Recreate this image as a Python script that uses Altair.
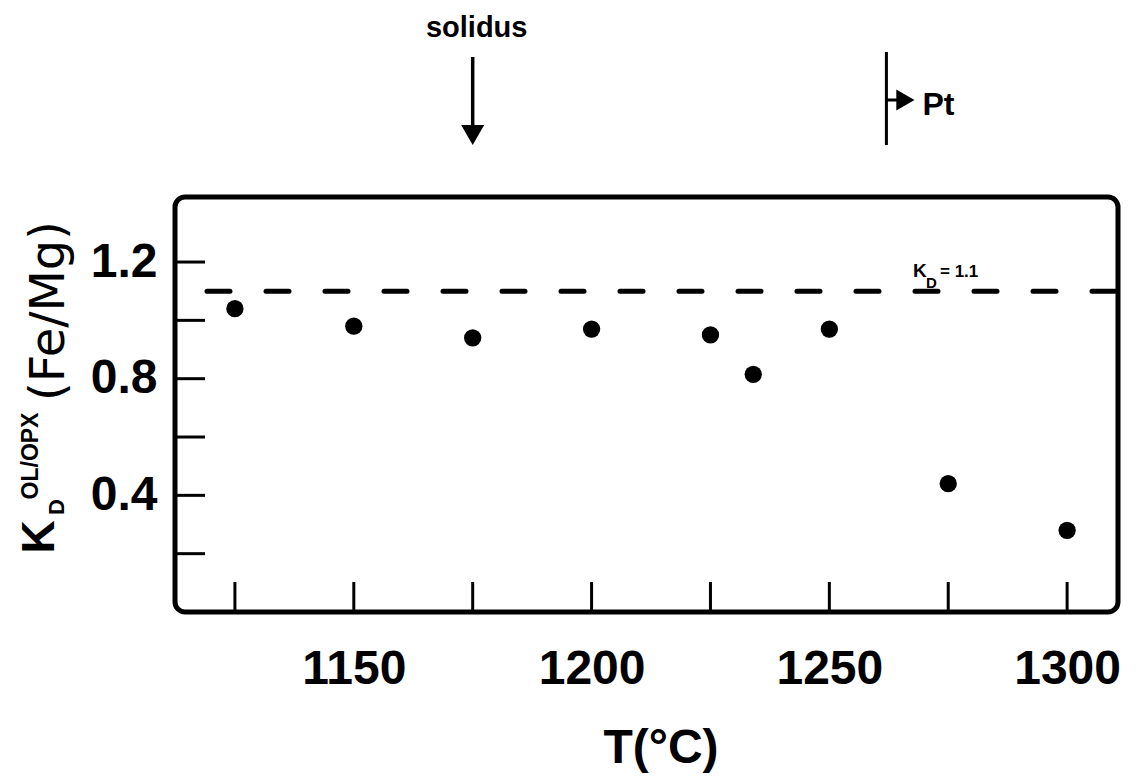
import altair as alt
import pandas as pd

# ---- data ----
temps = [1125, 1150, 1175, 1200, 1225, 1234, 1250, 1275, 1300]
kd = [1.04, 0.98, 0.94, 0.97, 0.95, 0.815, 0.97, 0.44, 0.28]
x_tick_values = [1125, 1150, 1175, 1200, 1225, 1250, 1275, 1300]
x_label_values = [1150, 1200, 1250, 1300]
y_tick_values = [0.2, 0.4, 0.6, 0.8, 1.0, 1.2]
y_label_values = [0.4, 0.8, 1.2]
kd_ref = [1.1]
solidus_T = [1175]
pt_T = [1262]

W, H = 943, 415
FONT = "Liberation Sans"

xs = alt.Scale(domain=[1112.4, 1310.7], nice=False, zero=False)
ys = alt.Scale(domain=[0, 1.423], nice=False, zero=False)

xaxis = alt.Axis(values=x_label_values, format="d", labelFont=FONT, labelFontSize=48,
                 labelFontWeight="bold", labelColor="black", labelPadding=33,
                 ticks=False, domain=False, grid=False, title=None, labelFlush=False)
yaxis = alt.Axis(values=y_label_values, format=".1f", labelFont=FONT, labelFontSize=48,
                 labelFontWeight="bold", labelColor="black", labelPadding=18,
                 ticks=False, domain=False, grid=False, title=None, labelFlush=False)

pts_df = pd.DataFrame({"T": temps, "KD": kd})

points = alt.Chart(pts_df).mark_circle(size=300, color="black", opacity=1).encode(
    x=alt.X("T:Q", scale=xs, axis=xaxis),
    y=alt.Y("KD:Q", scale=ys, axis=yaxis),
)

xticks = alt.Chart(pd.DataFrame({"T": x_tick_values})).mark_rule(
    color="black", strokeWidth=3).encode(
    x=alt.X("T:Q", scale=xs), y=alt.value(H), y2=alt.value(H - 30))

yticks = alt.Chart(pd.DataFrame({"KD": y_tick_values})).mark_rule(
    color="black", strokeWidth=3).encode(
    y=alt.Y("KD:Q", scale=ys), x=alt.value(0), x2=alt.value(30))

ref_df = pd.DataFrame({"KD": kd_ref})
dashed = alt.Chart(ref_df).mark_rule(
    color="black", strokeWidth=5, strokeDash=[23, 36], strokeCap="round").encode(
    y=alt.Y("KD:Q", scale=ys), x=alt.value(32), x2=alt.value(W))

# K_D = 1.1 label
kd_K = alt.Chart(ref_df).mark_text(font=FONT, fontSize=19, fontWeight="bold", align="left",
                                   baseline="alphabetic", color="black").encode(
    x=alt.value(738), y=alt.value(80), text=alt.value("K"))
kd_D = alt.Chart(ref_df).mark_text(font=FONT, fontSize=15, fontWeight="bold", align="left",
                                   baseline="alphabetic", color="black").encode(
    x=alt.value(751), y=alt.value(91), text=alt.value("D"))
kd_eq = alt.Chart(ref_df).mark_text(font=FONT, fontSize=17, fontWeight="bold", align="left",
                                    baseline="alphabetic", color="black").encode(
    x=alt.value(765), y=alt.value(80), text=alt.value("= 1.1"))

# solidus arrow
sol_df = pd.DataFrame({"T": solidus_T})
sol_line = alt.Chart(sol_df).mark_rule(color="black", strokeWidth=3.5).encode(
    x=alt.X("T:Q", scale=xs), y=alt.value(-140), y2=alt.value(-68))
sol_head = alt.Chart(sol_df).mark_point(shape="triangle-down", filled=True, size=529,
                                        color="black", opacity=1).encode(
    x=alt.X("T:Q", scale=xs), y=alt.value(-62))
sol_text = alt.Chart(sol_df).mark_text(font=FONT, fontSize=29, fontWeight="bold",
                                       align="center", baseline="alphabetic", dx=4,
                                       color="black").encode(
    x=alt.X("T:Q", scale=xs), y=alt.value(-160), text=alt.value("solidus"))

# Pt marker
pt_df = pd.DataFrame({"T": pt_T})
pt_line = alt.Chart(pt_df).mark_rule(color="black", strokeWidth=3).encode(
    x=alt.X("T:Q", scale=xs), y=alt.value(-145), y2=alt.value(-52))
pt_stub = alt.Chart(pt_df).mark_rule(color="black", strokeWidth=3, x2Offset=12).encode(
    x=alt.X("T:Q", scale=xs), x2="T:Q", y=alt.value(-97))
pt_head = alt.Chart(pt_df).mark_point(shape="triangle-right", filled=True, size=441,
                                      color="black", opacity=1, xOffset=19).encode(
    x=alt.X("T:Q", scale=xs), y=alt.value(-97))
pt_text = alt.Chart(pt_df).mark_text(font=FONT, fontSize=32, fontWeight="bold",
                                     align="left", baseline="alphabetic", dx=36,
                                     color="black").encode(
    x=alt.X("T:Q", scale=xs), y=alt.value(-82), text=alt.value("Pt"))

# axis titles (as text with sub/superscripts)
one = pd.DataFrame({"a": [0]})
xtitle = alt.Chart(one).mark_text(font=FONT, fontSize=48, fontWeight="bold", align="center",
                                  baseline="alphabetic", color="black").encode(
    x=alt.value(486), y=alt.value(566), text=alt.value("T(°C)"))
yt_K = alt.Chart(one).mark_text(font=FONT, fontSize=46, fontWeight="bold", angle=270,
                                align="center", baseline="middle", color="black").encode(
    x=alt.value(-135), y=alt.value(340), text=alt.value("K"))
yt_D = alt.Chart(one).mark_text(font=FONT, fontSize=22, fontWeight="bold", angle=270,
                                align="center", baseline="middle", color="black").encode(
    x=alt.value(-118), y=alt.value(310), text=alt.value("D"))
yt_sup = alt.Chart(one).mark_text(font=FONT, fontSize=23, fontWeight="bold", angle=270,
                                  align="center", baseline="middle", color="black").encode(
    x=alt.value(-144), y=alt.value(259), text=alt.value("OL/OPX"))
yt_fm = alt.Chart(one).mark_text(font="DejaVu Sans", fontSize=48, angle=270,
                                 align="center", baseline="middle", color="black").encode(
    x=alt.value(-125), y=alt.value(114), text=alt.value("(Fe/Mg)"))

chart = alt.layer(
    points, xticks, yticks, dashed, kd_K, kd_D, kd_eq,
    sol_line, sol_head, sol_text, pt_line, pt_stub, pt_head, pt_text,
    xtitle, yt_K, yt_D, yt_sup, yt_fm,
).properties(
    width=W, height=H,
    autosize=alt.AutoSizeParams(type="none"),
    padding={"left": 167, "top": 189, "right": 10, "bottom": 162},
    background="white",
).configure_view(
    stroke="black", strokeWidth=5, cornerRadius=10,
)

chart.save("out.html", embed_options={"renderer": "svg", "actions": False})
